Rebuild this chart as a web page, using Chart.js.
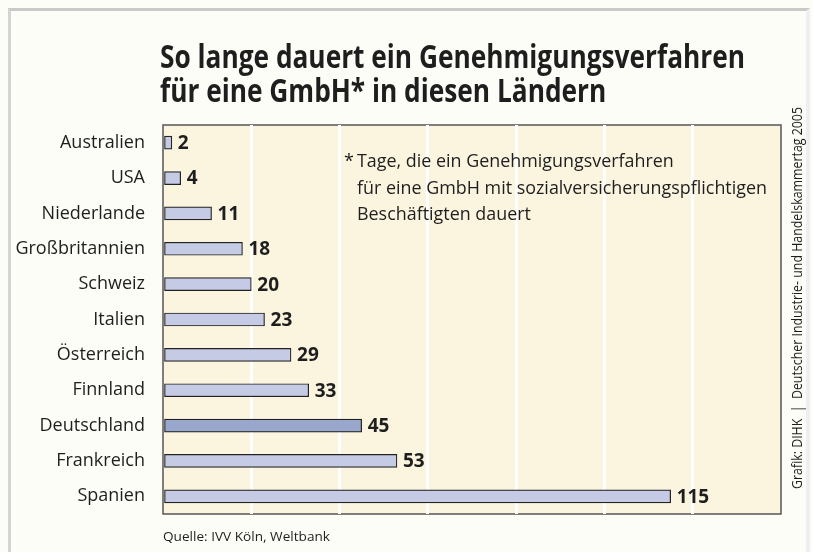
<!DOCTYPE html>
<html>
<head>
<meta charset="utf-8">
<script src="https://cdn.jsdelivr.net/npm/chart.js@4"></script>
<style>
  html, body { margin: 0; padding: 0; background: #fdfdf8; }
  #wrap { position: relative; width: 813px; height: 552px; overflow: hidden; }
  #frame { position: absolute; left: 8px; top: 8px; width: 795px; height: 560px;
           border-top: 3px solid #c9c9c9; border-left: 3px solid #d4d4d4; border-right: 4px solid #efefef; }
  #chart { position: absolute; left: 0; top: 0; }
</style>
</head>
<body>
<div id="wrap">
  <div id="frame"></div>
  <canvas id="chart" width="813" height="552"></canvas>
</div>
<script>
// data
const countries = ["Australien", "USA", "Niederlande", "Großbritannien", "Schweiz", "Italien",
  "Österreich", "Finnland", "Deutschland", "Frankreich", "Spanien"];
const days = [2, 4, 11, 18, 20, 23, 29, 33, 45, 53, 115];
const highlight = "Deutschland";
const axisTicks = [0, 20, 40, 60, 80, 100, 120, 140];

const titleLines = ["So lange dauert ein Genehmigungsverfahren", "für eine GmbH* in diesen Ländern"];
const noteLines = ["Tage, die ein Genehmigungsverfahren",
  "für eine GmbH mit sozialversicherungspflichtigen",
  "Beschäftigten dauert"];
const sourceText = "Quelle: IVV Köln, Weltbank";
const creditText = "Grafik: DIHK  |  Deutscher Industrie- und Handelskammertag 2005";

const FONT = "'Open Sans', 'DejaVu Sans', sans-serif";
const INK = "#1e1e1e";

const barColors = countries.map(c => c === highlight ? "#9aa7cd" : "#c5cbe4");

// draw text squeezed horizontally so it reaches a given width
function squeezed(ctx, lines, x, y, step, width, refIndex) {
  const sx = width / ctx.measureText(lines[refIndex]).width;
  lines.forEach((line, i) => {
    ctx.save();
    ctx.translate(x, y + i * step);
    ctx.scale(sx, 1);
    ctx.fillText(line, 0, 0);
    ctx.restore();
  });
}

const decoPlugin = {
  id: "deco",
  beforeDraw(chart) {
    const { ctx, chartArea: a } = chart;
    ctx.save();
    ctx.fillStyle = "#fbf4df";
    ctx.fillRect(a.left, a.top, a.right - a.left, a.bottom - a.top);
    ctx.strokeStyle = "#555";
    ctx.lineWidth = 1.5;
    ctx.strokeRect(a.left, a.top, a.right - a.left, a.bottom - a.top);
    ctx.restore();
  },
  afterDatasetsDraw(chart) {
    const { ctx } = chart;
    const meta = chart.getDatasetMeta(0);
    ctx.save();
    ctx.font = "bold 19px " + FONT;
    ctx.fillStyle = INK;
    ctx.textBaseline = "middle";
    ctx.textAlign = "left";
    meta.data.forEach((bar, i) => {
      ctx.fillText(String(days[i]), bar.x + 6, bar.y + 1);
    });
    ctx.restore();
  },
  afterDraw(chart) {
    const { ctx } = chart;
    ctx.save();
    ctx.fillStyle = INK;
    ctx.textBaseline = "alphabetic";
    ctx.textAlign = "left";

    // title, squeezed to the width of the original condensed face
    ctx.font = "bold 32px " + FONT;
    squeezed(ctx, titleLines, 160, 68, 34, 585, 0);

    // footnote
    ctx.font = "18px " + FONT;
    ctx.fillText("*", 344, 167);
    squeezed(ctx, noteLines, 357, 167, 26.5, 410, 1);

    // source
    ctx.font = "13.5px " + FONT;
    squeezed(ctx, [sourceText], 163, 541, 0, 167, 0);

    // credit, rotated along the right edge
    ctx.font = "14.5px " + FONT;
    ctx.translate(802, 489);
    ctx.rotate(-Math.PI / 2);
    squeezed(ctx, [creditText], 0, 0, 0, 382, 0);
    ctx.restore();
  }
};

new Chart(document.getElementById("chart"), {
  type: "bar",
  data: {
    labels: countries,
    datasets: [{
      data: days,
      backgroundColor: barColors,
      borderColor: "#222",
      borderWidth: 1.2,
      borderSkipped: false,
      barThickness: 13
    }]
  },
  options: {
    indexAxis: "y",
    responsive: false,
    devicePixelRatio: 1,
    animation: false,
    layout: { padding: { left: 0, top: 125, right: 32, bottom: 38 } },
    scales: {
      y: {
        afterFit(s) { s.width = 163; },
        grid: { display: false },
        border: { display: false },
        ticks: { color: INK, padding: 10, font: { family: FONT, size: 18 } }
      },
      x: {
        min: axisTicks[0],
        max: axisTicks[axisTicks.length - 1],
        afterBuildTicks(s) { s.ticks = axisTicks.map(v => ({ value: v })); },
        afterFit(s) { s.height = 0; },
        ticks: { display: false },
        border: { display: false },
        grid: {
          drawTicks: false,
          lineWidth: 3,
          color: ctx => (ctx.tick && (ctx.tick.value === axisTicks[0] ||
            ctx.tick.value === axisTicks[axisTicks.length - 1])) ? "rgba(0,0,0,0)" : "#ffffff"
        }
      }
    },
    plugins: {
      legend: { display: false },
      tooltip: { enabled: false },
      title: { display: false }
    }
  },
  plugins: [decoPlugin]
});
</script>
</body>
</html>
